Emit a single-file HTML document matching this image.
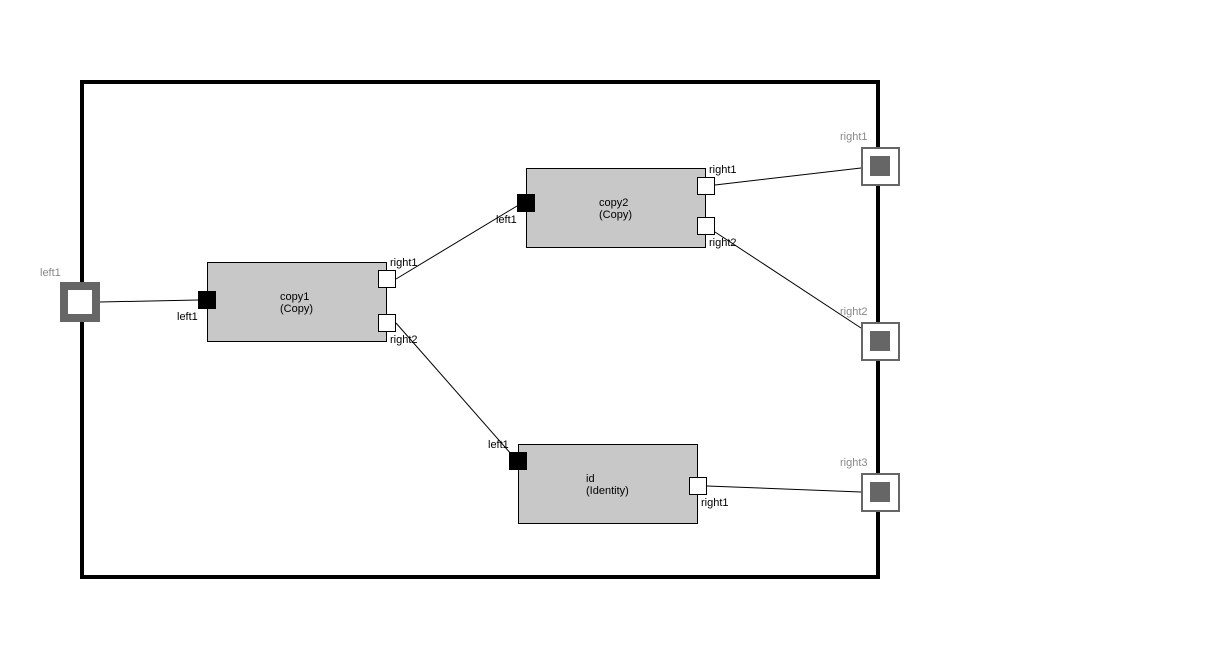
<!DOCTYPE html>
<html><head><meta charset="utf-8"><style>
html,body{margin:0;padding:0;background:#fff;}
svg{display:block;font-family:"Liberation Sans",Arial,sans-serif;font-size:11px;}
</style></head><body>
<svg width="1223" height="658" viewBox="0 0 1223 658" xmlns="http://www.w3.org/2000/svg">
<rect x="82" y="82" width="796" height="495" fill="none" stroke="#000" stroke-width="4"/>
<!-- connectors -->
<g stroke="#000" stroke-width="1" fill="none">
<line x1="100" y1="302" x2="198" y2="300"/>
<line x1="396" y1="279" x2="517" y2="206"/>
<line x1="396" y1="323" x2="512" y2="455"/>
<line x1="715" y1="185" x2="861" y2="168"/>
<line x1="715" y1="232" x2="861" y2="328"/>
<line x1="707" y1="486" x2="861" y2="492"/>
</g>
<!-- outer left port -->
<rect x="64" y="286" width="32" height="32" fill="#fff" stroke="#666" stroke-width="8"/>
<text x="40" y="276" fill="#888">left1</text>
<!-- outer right ports -->
<g>
<rect x="862" y="148" width="37" height="37" fill="#fff" stroke="#666" stroke-width="2"/>
<rect x="870" y="156" width="20" height="20" fill="#666"/>
<text x="840" y="140" fill="#888">right1</text>
<rect x="862" y="323" width="37" height="37" fill="#fff" stroke="#666" stroke-width="2"/>
<rect x="870" y="331" width="20" height="20" fill="#666"/>
<text x="840" y="315" fill="#888">right2</text>
<rect x="862" y="474" width="37" height="37" fill="#fff" stroke="#666" stroke-width="2"/>
<rect x="870" y="482" width="20" height="20" fill="#666"/>
<text x="840" y="466" fill="#888">right3</text>
</g>
<!-- copy1 -->
<rect x="207.5" y="262.5" width="179" height="79" fill="#c8c8c8" stroke="#000"/>
<text x="280" y="300" fill="#000">copy1</text>
<text x="280" y="312" fill="#000">(Copy)</text>
<rect x="198" y="291" width="18" height="18" fill="#000"/>
<text x="177" y="320">left1</text>
<rect x="378.5" y="270.5" width="17" height="17" fill="#fff" stroke="#000"/>
<text x="390" y="266">right1</text>
<rect x="378.5" y="314.5" width="17" height="17" fill="#fff" stroke="#000"/>
<text x="390" y="343">right2</text>
<!-- copy2 -->
<rect x="526.5" y="168.5" width="179" height="79" fill="#c8c8c8" stroke="#000"/>
<text x="599" y="206">copy2</text>
<text x="599" y="218">(Copy)</text>
<rect x="517" y="194" width="18" height="18" fill="#000"/>
<text x="496" y="223">left1</text>
<rect x="697.5" y="177.5" width="17" height="17" fill="#fff" stroke="#000"/>
<text x="709" y="173">right1</text>
<rect x="697.5" y="217.5" width="17" height="17" fill="#fff" stroke="#000"/>
<text x="709" y="246">right2</text>
<!-- id -->
<rect x="518.5" y="444.5" width="179" height="79" fill="#c8c8c8" stroke="#000"/>
<text x="586" y="482">id</text>
<text x="586" y="494">(Identity)</text>
<rect x="509" y="452" width="18" height="18" fill="#000"/>
<text x="488" y="448">left1</text>
<rect x="689.5" y="477.5" width="17" height="17" fill="#fff" stroke="#000"/>
<text x="701" y="506">right1</text>
</svg>
</body></html>
